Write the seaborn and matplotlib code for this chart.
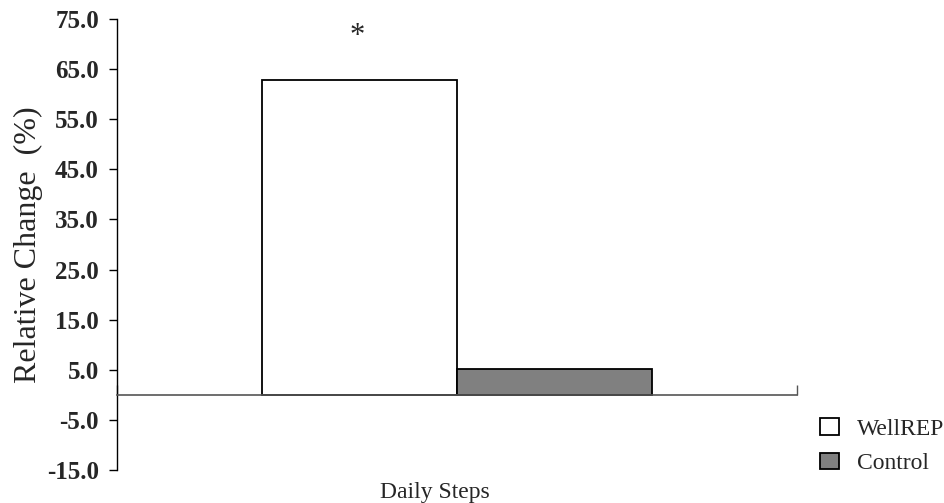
import matplotlib
matplotlib.use("Agg")
import matplotlib.pyplot as plt
import seaborn as sns
import pandas as pd
from matplotlib.ticker import FormatStrFormatter

# data
categories = ["Daily Steps"]
groups = ["WellREP", "Control"]
values = [62.9, 5.1]
yticks = [-15, -5, 5, 15, 25, 35, 45, 55, 65, 75]
significance = ["*", ""]

df = pd.DataFrame({"category": categories * len(groups), "group": groups, "value": values})

sns.set_theme(style="white")
plt.rcParams["font.family"] = ["Liberation Serif", "DejaVu Serif"]

fig = plt.figure(figsize=(9.45, 5.03), dpi=100)
ax = fig.add_axes([117 / 945, 1 - 470 / 503, 680 / 945, 451 / 503])

sns.barplot(data=df, x="category", y="value", hue="group", palette=["white", "#808080"],
            edgecolor="black", linewidth=1.3, width=0.574, ax=ax, legend=True)

ax.set_ylim(-15, 75)
ax.set_xlim(-0.5, 0.5)
ax.set_yticks(yticks)
ax.yaxis.set_major_formatter(FormatStrFormatter("%.1f"))
for lab in ax.get_yticklabels():
    lab.set_fontweight("bold")
ax.tick_params(axis="y", direction="out", length=6, width=1, color="black",
               labelsize=18, pad=7, left=True)

ax.spines["top"].set_visible(False)
ax.spines["right"].set_visible(False)
ax.spines["left"].set_color("black")
ax.spines["left"].set_linewidth(1)
ax.spines["bottom"].set_position(("data", 0))
ax.spines["bottom"].set_color("#555555")
ax.spines["bottom"].set_linewidth(1.2)
ax.set_xticks([-0.5, 0.5])
ax.set_xticklabels(["", ""])
ax.tick_params(axis="x", direction="in", length=7, width=1, color="#555555", bottom=True)

ax.set_ylabel("Relative Change  (%)", fontsize=23, labelpad=3)
ax.set_xlabel("Daily Steps", fontsize=17)
ax.xaxis.set_label_coords(0.467, -0.027)

# significance marker
bars = [p for p in ax.patches if p.get_height() != 0]
for p, s in zip(bars, significance):
    if s:
        ax.text(p.get_x() + p.get_width() / 2 - 0.004, 71.5, s, ha="center", va="center", fontsize=22)

handles, labels = ax.get_legend_handles_labels()
ax.legend(handles, labels, loc="upper left", bbox_to_anchor=(820 / 945, 1 - 418 / 503),
          bbox_transform=fig.transFigure, frameon=False, fontsize=17, borderpad=0,
          borderaxespad=0, handlelength=0.8, handleheight=0.7, handletextpad=0.75,
          labelspacing=0.55)

fig.savefig("out.png", dpi=100)
